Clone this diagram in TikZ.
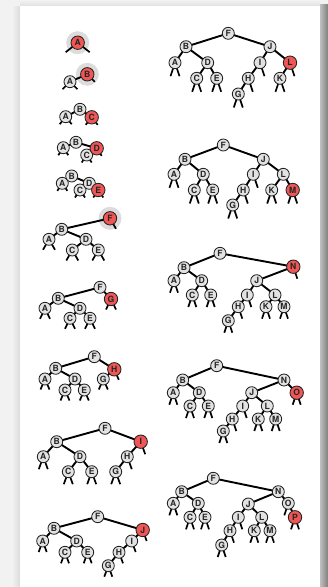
\documentclass[tikz,border=0pt]{standalone}
\usepackage{fontspec}
\setsansfont{TeX Gyre Heros}
\definecolor{bgc}{HTML}{F2F2F2}
\definecolor{ndc}{HTML}{E2E2E2}
\definecolor{redc}{HTML}{F05656}
\definecolor{haloc}{HTML}{DCDCDC}
\definecolor{olc}{HTML}{222222}
\pgfdeclarelayer{back}
\pgfdeclarelayer{edge}
\pgfsetlayers{back,edge,main}
\tikzset{
  nd/.style={circle,draw=olc,line width=0.85pt,fill=ndc,minimum size=12pt,inner sep=0pt,
    font=\sffamily\bfseries\fontsize{8.6}{8.6}\selectfont,text=black!85},
  rd/.style={fill=redc,minimum size=13.4pt},
  ed/.style={line width=1.9pt,black},
  leg/.style={line width=1.7pt,black},
}
\newcommand\tnode[4][]{\node[nd,#1] (#2#3) at (#4) {#3};}
\newcommand\tedges[2]{\foreach \p/\c in {#2}{\draw[ed] (#1\p.center) -- (#1\c.center);}}
\newcommand\legL[2]{\draw[leg] (#1#2.center) -- ++(-\LegX,\LegY);}
\newcommand\legR[2]{\draw[leg] (#1#2.center) -- ++(\LegX,\LegY);}
\newcommand\legB[2]{\legL{#1}{#2}\legR{#1}{#2}}
\newcommand\halo[1]{\fill[haloc] (#1.center) circle (11.5);}
\begin{document}
\begin{tikzpicture}[x=1pt,y=-1pt]
\useasboundingbox (0,0) rectangle (328,587);
\begin{pgfonlayer}{back}
\fill[bgc] (0,0) rectangle (328,587);
\shade[left color=bgc,right color=black!14] (12,6) rectangle (20,587);
\shade[top color=bgc,bottom color=black!12] (20,0) rectangle (320,6);
\fill[white] (20,6) rectangle (320,587);
\shade[left color=black!25,right color=black!50] (320,4) rectangle (328,587);
\end{pgfonlayer}

% ---------- tree 1
\tnode[rd]{a}{A}{77.7,42.7}
% ---------- tree 2
\tnode{b}{A}{70,81.7}
\tnode[rd]{b}{B}{87.3,74.3}
% ---------- tree 3
\tnode{c}{A}{65.7,116.7}
\tnode{c}{B}{80,109.3}
\tnode[rd]{c}{C}{91.7,117.3}
% ---------- tree 4
\tnode{d}{A}{63.3,147.7}
\tnode{d}{B}{76,142.3}
\tnode{d}{C}{86.7,155}
\tnode[rd]{d}{D}{96.7,148.3}
% ---------- tree 5
\tnode{e}{A}{62.3,183.3}
\tnode{e}{B}{71.7,176}
\tnode{e}{C}{80,190}
\tnode{e}{D}{89.3,183.3}
\tnode[rd]{e}{E}{98.3,190}
% ---------- tree 6
\tnode{f}{A}{49,239.3}
\tnode{f}{B}{61.7,229.3}
\tnode{f}{C}{72.3,250}
\tnode{f}{D}{86,239.3}
\tnode{f}{E}{98.3,250}
\tnode[rd]{f}{F}{110,218.3}
% ---------- tree 7
\tnode{g}{A}{45,308.3}
\tnode{g}{B}{58.3,298.3}
\tnode{g}{C}{70,318.3}
\tnode{g}{D}{80,308.3}
\tnode{g}{E}{90,318.3}
\tnode{g}{F}{100,287.3}
\tnode[rd]{g}{G}{111,299}
% ---------- tree 8
\tnode{h}{A}{45,379}
\tnode{h}{B}{55.7,368.3}
\tnode{h}{C}{65,390}
\tnode{h}{D}{75,379}
\tnode{h}{E}{84.3,390}
\tnode{h}{F}{94.3,356.7}
\tnode{h}{G}{103.3,379}
\tnode[rd]{h}{H}{114.3,369.3}
% ---------- tree 9
\tnode{i}{A}{43.3,456.7}
\tnode{i}{B}{56.7,441.7}
\tnode{i}{C}{68.3,471.7}
\tnode{i}{D}{80,456.7}
\tnode{i}{E}{91.7,471.7}
\tnode{i}{F}{105,428.3}
\tnode{i}{G}{115.7,471.7}
\tnode{i}{H}{127.3,456.7}
\tnode[rd]{i}{I}{140.7,441.7}
% ---------- tree 10
\tnode{j}{A}{42.7,541}
\tnode{j}{B}{54,528.3}
\tnode{j}{C}{65,552.3}
\tnode{j}{D}{76.7,541}
\tnode{j}{E}{87.7,552.3}
\tnode{j}{F}{97.7,516.7}
\tnode{j}{G}{108.3,565.7}
\tnode{j}{H}{119,552.3}
\tnode{j}{I}{131.7,541}
\tnode[rd]{j}{J}{142.7,530}
% ---------- tree 11
\tnode{k}{A}{175,62.7}
\tnode{k}{B}{186,46.7}
\tnode{k}{C}{196.7,78.3}
\tnode{k}{D}{207.7,62.7}
\tnode{k}{E}{216.7,78.3}
\tnode{k}{F}{228.3,33.3}
\tnode{k}{G}{238.3,94}
\tnode{k}{H}{248.3,78.3}
\tnode{k}{I}{260,62.7}
\tnode{k}{J}{270,46.7}
\tnode{k}{K}{280,78.3}
\tnode[rd]{k}{L}{290,62.7}
% ---------- tree 12
\tnode{l}{A}{174,174.3}
\tnode{l}{B}{185,159.3}
\tnode{l}{C}{194.3,190}
\tnode{l}{D}{203.3,174.3}
\tnode{l}{E}{212.7,190}
\tnode{l}{F}{223.3,145}
\tnode{l}{G}{232.7,205}
\tnode{l}{H}{243.3,190}
\tnode{l}{I}{253.3,174.3}
\tnode{l}{J}{263.3,159.3}
\tnode{l}{K}{271.7,190}
\tnode{l}{L}{283.3,174.3}
\tnode[rd]{l}{M}{292.7,190}
% ---------- tree 13
\tnode{m}{A}{174,280.7}
\tnode{m}{B}{184,267.7}
\tnode{m}{C}{192.3,295}
\tnode{m}{D}{201.7,280.7}
\tnode{m}{E}{210.7,295}
\tnode{m}{F}{220,253.3}
\tnode{m}{G}{228.3,320.7}
\tnode{m}{H}{238.3,306.7}
\tnode{m}{I}{247.3,295}
\tnode{m}{J}{256.7,280.7}
\tnode{m}{K}{266,306.7}
\tnode{m}{L}{275,295}
\tnode{m}{M}{284,306.7}
\tnode[rd]{m}{N}{293.3,266.7}
% ---------- tree 14
\tnode{n}{A}{173.3,392.7}
\tnode{n}{B}{182.7,380}
\tnode{n}{C}{190,406}
\tnode{n}{D}{199.3,392.7}
\tnode{n}{E}{208.3,406}
\tnode{n}{F}{216.7,365.7}
\tnode{n}{G}{223.3,431}
\tnode{n}{H}{232.3,419}
\tnode{n}{I}{242.7,406}
\tnode{n}{J}{251.7,392.7}
\tnode{n}{K}{258.3,419}
\tnode{n}{L}{267.3,406}
\tnode{n}{M}{275.7,419}
\tnode{n}{N}{284,380}
\tnode[rd]{n}{O}{296.7,392.7}
% ---------- tree 15
\tnode{o}{A}{173.3,503.3}
\tnode{o}{B}{181.7,491.7}
\tnode{o}{C}{190,517.3}
\tnode{o}{D}{198.3,503.3}
\tnode{o}{E}{205,517.3}
\tnode{o}{F}{213.3,478.3}
\tnode{o}{G}{221.7,545}
\tnode{o}{H}{230,530.7}
\tnode{o}{I}{238.3,517.3}
\tnode{o}{J}{248.3,504}
\tnode{o}{K}{254.3,530.7}
\tnode{o}{L}{261.7,517.3}
\tnode{o}{M}{270,530.7}
\tnode{o}{N}{278.3,491.7}
\tnode{o}{O}{288.3,503.3}
\tnode[rd]{o}{P}{295,517.3}

\begin{pgfonlayer}{back}
\halo{aA}
\halo{bB}
\halo{fF}
\end{pgfonlayer}

\begin{pgfonlayer}{edge}
% tree 1
\def\LegX{12}\def\LegY{9.5}
\legB{a}{A}
% tree 2
\def\LegX{7.5}\def\LegY{7.5}
\tedges{b}{B/A}
\legB{b}{A}\legR{b}{B}
% tree 3
\def\LegX{6}\def\LegY{7.5}
\tedges{c}{B/A,B/C}
\legB{c}{A}\legB{c}{C}
% tree 4
\def\LegX{5}\def\LegY{7.5}
\tedges{d}{B/A,B/D,D/C}
\legB{d}{A}\legB{d}{C}\legR{d}{D}
% tree 5
\tedges{e}{B/A,B/D,D/C,D/E}
\legB{e}{A}\legB{e}{C}\legB{e}{E}
% tree 6
\def\LegX{6}\def\LegY{10.5}
\tedges{f}{F/B,B/A,B/D,D/C,D/E}
\legR{f}{F}\legB{f}{A}\legB{f}{C}\legB{f}{E}
% tree 7
\def\LegX{5}\def\LegY{10.5}
\tedges{g}{F/B,F/G,B/A,B/D,D/C,D/E}
\legB{g}{G}\legB{g}{A}\legB{g}{C}\legB{g}{E}
% tree 8
\def\LegX{4.5}\def\LegY{10.5}
\tedges{h}{F/B,F/H,H/G,B/A,B/D,D/C,D/E}
\legR{h}{H}\legB{h}{G}\legB{h}{A}\legB{h}{C}\legB{h}{E}
% tree 9
\def\LegX{4.5}\def\LegY{12.5}
\tedges{i}{F/B,F/I,I/H,H/G,B/A,B/D,D/C,D/E}
\legR{i}{I}\legR{i}{H}\legB{i}{G}\legB{i}{A}\legB{i}{C}\legB{i}{E}
% tree 10
\def\LegX{4}\def\LegY{11}
\tedges{j}{F/B,F/J,J/I,I/H,H/G,B/A,B/D,D/C,D/E}
\legR{j}{J}\legR{j}{I}\legR{j}{H}\legB{j}{G}\legB{j}{A}\legB{j}{C}\legB{j}{E}
% tree 11
\def\LegX{4.5}\def\LegY{13.5}
\tedges{k}{F/B,F/J,B/A,B/D,D/C,D/E,J/I,J/L,I/H,H/G,L/K}
\legB{k}{A}\legB{k}{C}\legB{k}{E}\legB{k}{G}\legB{k}{K}
\legR{k}{I}\legR{k}{H}\legR{k}{L}
% tree 12
\tedges{l}{F/B,F/J,B/A,B/D,D/C,D/E,J/I,J/L,I/H,H/G,L/K,L/M}
\legB{l}{A}\legB{l}{C}\legB{l}{E}\legB{l}{G}\legB{l}{K}\legB{l}{M}
\legR{l}{I}\legR{l}{H}
% tree 13
\def\LegX{4}\def\LegY{12}
\tedges{m}{F/B,F/N,N/J,J/I,J/L,I/H,H/G,L/K,L/M,B/A,B/D,D/C,D/E}
\legB{m}{A}\legB{m}{C}\legB{m}{E}\legB{m}{G}\legB{m}{K}\legB{m}{M}
\legR{m}{N}\legR{m}{I}\legR{m}{H}
% tree 14
\tedges{n}{F/B,F/N,N/J,N/O,J/I,J/L,I/H,H/G,L/K,L/M,B/A,B/D,D/C,D/E}
\legB{n}{A}\legB{n}{C}\legB{n}{E}\legB{n}{G}\legB{n}{K}\legB{n}{M}\legB{n}{O}
\legR{n}{I}\legR{n}{H}
% tree 15
\tedges{o}{F/B,F/N,N/J,N/O,O/P,J/I,J/L,I/H,H/G,L/K,L/M,B/A,B/D,D/C,D/E}
\legB{o}{A}\legB{o}{C}\legB{o}{E}\legB{o}{G}\legB{o}{K}\legB{o}{M}\legB{o}{P}
\legR{o}{I}\legR{o}{H}\legL{o}{O}
\end{pgfonlayer}
\end{tikzpicture}
\end{document}
